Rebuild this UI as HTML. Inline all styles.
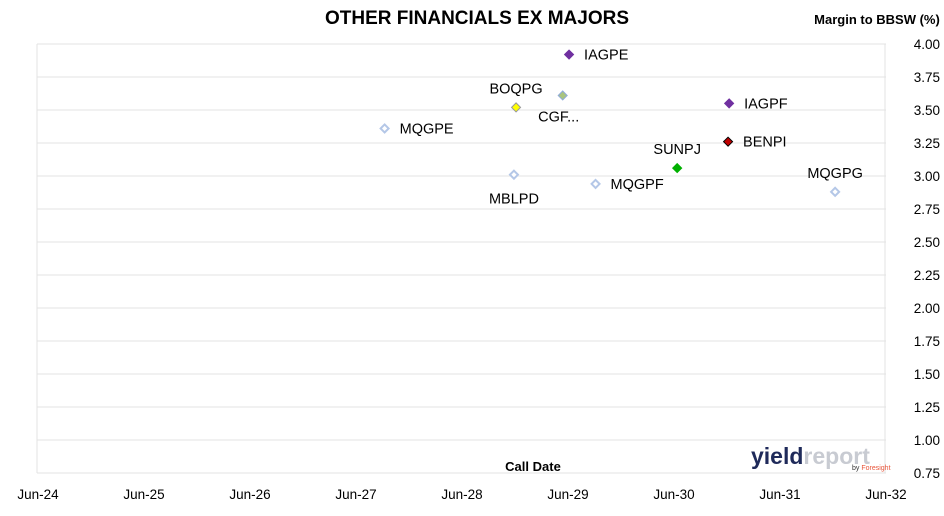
<!DOCTYPE html>
<html><head><meta charset="utf-8"><style>
body{margin:0;background:#fff;font-family:"Liberation Sans",sans-serif;}
svg text{font-family:"Liberation Sans",sans-serif;}
</style></head><body>
<svg id="chart" width="944" height="511" xmlns="http://www.w3.org/2000/svg">
<rect width="944" height="511" fill="#fff"/>
<text x="477" y="24" text-anchor="middle" font-size="19" font-weight="bold">OTHER FINANCIALS EX MAJORS</text>
<text x="877" y="24" text-anchor="middle" font-size="13" font-weight="bold">Margin to BBSW (%)</text>
<text x="533" y="471" text-anchor="middle" font-size="13" font-weight="bold">Call Date</text>
<g id="grid"></g><g id="ticks"></g><g id="marks"></g>
<g>
<text x="751" y="464" font-size="23" font-weight="bold" fill="#1f2a5a">yield<tspan fill="#c8cbd2">report</tspan></text>
<text x="852" y="470" font-size="7" fill="#e8553a"><tspan fill="#333">by </tspan>Foresight</text>
</g>
</svg>
<script>
const names=["MQGPE","BOQPG","CGF...","IAGPE","MBLPD","MQGPF","SUNPJ","IAGPF","BENPI","MQGPG"];
const callYears=[3.27,4.51,4.95,5.01,4.49,5.26,6.03,6.52,6.51,7.52];
const margins=[3.36,3.52,3.61,3.92,3.01,2.94,3.06,3.55,3.26,2.88];
const fills=["#fff","#ffff00","#a9c47f","#7030a0","#fff","#fff","#00b000","#7030a0","#c00000","#fff"];
const strokes=["#b4c7e7","#999","#8faadc","#7030a0","#b4c7e7","#b4c7e7","#00b000","#7030a0","#000","#b4c7e7"];
const labelPos=["right","above","below","right","below","right","above","right","right","above"];
const xTickLabels=["Jun-24","Jun-25","Jun-26","Jun-27","Jun-28","Jun-29","Jun-30","Jun-31","Jun-32"];
const yTicks=[0.75,1.00,1.25,1.50,1.75,2.00,2.25,2.50,2.75,3.00,3.25,3.50,3.75,4.00];
const NS="http://www.w3.org/2000/svg";
const xs=v=>38+v*106, ys=v=>44+(4-v)*132;
const grid=document.getElementById('grid'),ticks=document.getElementById('ticks'),marks=document.getElementById('marks');
function mk(tag,attrs,parent){const e=document.createElementNS(NS,tag);for(const k in attrs)e.setAttribute(k,attrs[k]);parent.appendChild(e);return e;}
yTicks.forEach(v=>{
 const l=mk('line',{x1:37,x2:886,y1:ys(v),y2:ys(v),stroke:'#e3e3e3'},grid);
 
 
 const t=mk('text',{x:940,y:ys(v)+5,'text-anchor':'end','font-size':13.5},ticks);
 t.textContent=v.toFixed(2);
 
 
});
[0,8].forEach(i=>{const l=mk('line',{x1:xs(i)-1,x2:xs(i)-1,y1:44,y2:473,stroke:'#e3e3e3'},grid);
 
 });
xTickLabels.forEach((s,i)=>{
 const t=mk('text',{x:xs(i),y:499,'text-anchor':'middle','font-size':13.5},ticks);
 t.textContent=s;
 
 
});
names.forEach((n,i)=>{
 const cx=xs(callYears[i]),cy=ys(margins[i]);
 const r=fills[i]=="#fff"?4:4.5;
 const d=mk('path',{d:`M${cx} ${cy-r}L${cx+r} ${cy}L${cx} ${cy+r}L${cx-r} ${cy}Z`,fill:fills[i],stroke:strokes[i],'stroke-width':fills[i]=="#fff"?2:1},marks);
 
 
 let x=cx,y=cy,a='middle';
 if(labelPos[i]=='right'){x=cx+15;y=cy+5;a='start';}
 else if(labelPos[i]=='above'){y=cy-14;}
 else {y=cy+29;}
 if(n=="CGF..."){x=cx-4;y=cy+26;}
 const t=mk('text',{x:x,y:y,'text-anchor':a,'font-size':14.5},marks);
 t.textContent=n;
 
 
});
</script>
</body></html>
